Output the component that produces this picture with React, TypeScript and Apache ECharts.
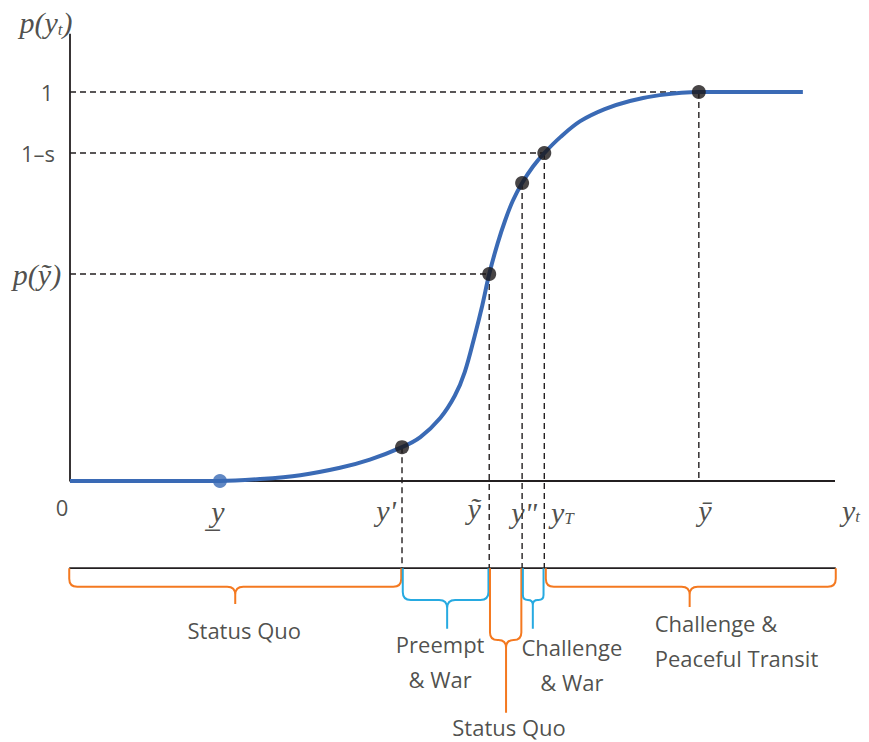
import React, { useEffect, useRef } from "react";
import * as echarts from "echarts";

// ---------------- data ----------------
const curveX = [0, 1.96, 2.48, 3.01, 3.53, 3.92, 4.34, 4.58, 4.84, 5.03, 5.16, 5.29, 5.39, 5.48, 5.59, 5.69, 5.79, 5.91, 6.05, 6.2, 6.41, 6.67, 6.99, 7.32, 7.71, 8.22, 9.58];
const curveY = [0, 0, 0.005, 0.015, 0.034, 0.055, 0.087, 0.113, 0.162, 0.219, 0.28, 0.373, 0.452, 0.532, 0.611, 0.671, 0.721, 0.766, 0.808, 0.843, 0.884, 0.925, 0.956, 0.977, 0.992, 1, 1];

const lowerBoundX = 1.96;
const pointNames = ["y'", "ỹ", 'y"', "yT", "ȳ"];
const pointX = [4.34, 5.48, 5.91, 6.2, 8.22];
const pointY = [0.087, 0.532, 0.766, 0.843, 1];

const yTickLabels = ["1", "1–s", "p(ỹ)"];
const yTickValues = [1, 0.843, 0.532];
const hGuideToX = [8.22, 6.2, 5.48];

const xAxisEnd = 10;
const yAxisEnd = 1.15;
const bracketLineY = -0.224;

const xTickLabels = ["0", "y̲", "y'", "ỹ", 'y"', "{m|y}{s|T}", "ȳ", "{m|y}{s|t}"];
const xTickValues = [0, 1.96, 4.34, 5.48, 5.91, 6.2, 8.22, 10];

const braceLabels = ["Status Quo", "Preempt\n& War", "Status Quo", "Challenge\n& War", "Challenge &\nPeaceful Transit"];
const braceStartX = [-0.01, 4.35, 5.49, 5.92, 6.22];
const braceEndX = [4.33, 5.47, 5.9, 6.19, 10.01];
const braceTipX = [2.16, 4.93, 5.7, 6.05, 8.1];
const braceDepth = [-0.272, -0.306, -0.409, -0.306, -0.272];
const braceTipDepth = [-0.316, -0.38, -0.596, -0.38, -0.324];
const braceKind = [0, 1, 0, 1, 0];

// ---------------- layout / style ----------------
const INK = "#231f20";
const BLUE = "#3a6ab5";
const ORANGE = "#f47920";
const CYAN = "#27aae1";
const braceColors = [ORANGE, CYAN];
const SANS = "Open Sans";
const SERIF = "Liberation Serif";

const xTickOffsets = [[-8, 26], [-2, 30], [-16, 29], [-15, 27], [2, 31], [18, 31], [6, 29], [16, 29]];
const yTickOffsets = [[-23, 0], [-32, 0], [-33, 0]];
const yNameOffset = [-24, -11];
const braceLabelOffsets = [[9, 26], [-7, 33], [3, 14], [39, 36], [-35, 33]];
const braceLabelAlign = ["center", "center", "center", "center", "left"];

const mathStyle = { fontFamily: SERIF, fontStyle: "italic", fontSize: 30, color: INK };
const subStyle = { fontFamily: SERIF, fontStyle: "italic", fontSize: 17, color: INK, verticalAlign: "bottom" };
const sansStyle = { fontFamily: SANS, fontSize: 22, color: INK };

function buildOption() {
  const series: any[] = [];

  series.push({
    type: "line",
    data: [[0, yAxisEnd], [0, 0], [xAxisEnd, 0]],
    symbol: "none",
    lineStyle: { color: INK, width: 1.8 },
    silent: true,
    z: 3,
  });
  series.push({
    type: "line",
    data: [[braceStartX[0], bracketLineY], [braceEndX[braceEndX.length - 1], bracketLineY]],
    symbol: "none",
    lineStyle: { color: INK, width: 1.8 },
    silent: true,
    z: 3,
  });
  yTickValues.forEach((v, i) => {
    series.push({
      type: "line",
      data: [[0, v], [hGuideToX[i], v]],
      symbol: "none",
      lineStyle: { color: INK, width: 1.4, type: [6, 4] },
      silent: true,
      z: 2,
    });
  });
  pointX.forEach((x, i) => {
    const bottom = i === pointX.length - 1 ? 0 : bracketLineY;
    series.push({
      type: "line",
      data: [[x, pointY[i]], [x, bottom]],
      symbol: "none",
      lineStyle: { color: INK, width: 1.4, type: [6, 4] },
      silent: true,
      z: 2,
    });
  });
  series.push({
    type: "custom",
    silent: true,
    z: 4,
    data: braceStartX.map((s, i) => [s, braceEndX[i], braceTipX[i], braceDepth[i], braceTipDepth[i], braceKind[i]]),
    renderItem: (params: any, api: any) => {
      const x0 = api.value(0), x1 = api.value(1), xt = api.value(2);
      const yb = api.value(3), yt = api.value(4), k = api.value(5);
      const [ax, ay] = api.coord([x0, bracketLineY]);
      const [bx] = api.coord([x1, bracketLineY]);
      const [tx, by] = api.coord([xt, yb]);
      const [, ty] = api.coord([xt, yt]);
      const r = Math.min(8, (by - ay) / 2, (tx - ax) / 2, (bx - tx) / 2);
      const d =
        `M${ax},${ay} L${ax},${by - r} Q${ax},${by} ${ax + r},${by} L${tx - r},${by} Q${tx},${by} ${tx},${by + r} L${tx},${ty} ` +
        `M${tx},${by + r} Q${tx},${by} ${tx + r},${by} L${bx - r},${by} Q${bx},${by} ${bx},${by - r} L${bx},${ay}`;
      return {
        type: "path",
        shape: { pathData: d },
        style: { stroke: braceColors[k], fill: "none", lineWidth: 2 },
      };
    },
  });
  series.push({
    type: "line",
    data: curveX.map((x, i) => [x, curveY[i]]),
    smooth: 0.35,
    symbol: "none",
    lineStyle: { color: BLUE, width: 4 },
    silent: true,
    z: 5,
  });
  series.push({
    type: "scatter",
    data: [[lowerBoundX, 0]],
    symbolSize: 14,
    itemStyle: { color: BLUE },
    silent: true,
    z: 6,
  });
  series.push({
    type: "scatter",
    data: pointX.map((x, i) => ({ name: pointNames[i], value: [x, pointY[i]] })),
    symbolSize: 14,
    itemStyle: { color: "#1a1718" },
    silent: true,
    z: 6,
  });

  const texts: any[] = [];
  xTickValues.forEach((x, i) => {
    const lbl = xTickLabels[i];
    const isSans = lbl === "0";
    const fm = isSans ? lbl : lbl.startsWith("{") ? lbl : `{m|${lbl}}`;
    texts.push({
      value: [x, 0],
      label: { formatter: fm, offset: xTickOffsets[i], ...(isSans ? sansStyle : {}) },
    });
  });
  yTickValues.forEach((v, i) => {
    const lbl = yTickLabels[i];
    const isMath = lbl.startsWith("p(");
    texts.push({
      value: [0, v],
      label: { formatter: isMath ? `{m|${lbl}}` : lbl, offset: yTickOffsets[i], ...(isMath ? {} : sansStyle) },
    });
  });
  texts.push({
    value: [0, yAxisEnd],
    label: { formatter: "{m|p(y}{s|t}{m|)}", offset: yNameOffset },
  });
  braceLabels.forEach((t, i) => {
    const multi = t.indexOf("\n") >= 0;
    texts.push({
      value: [braceTipX[i], braceTipDepth[i]],
      label: {
        formatter: t,
        offset: braceLabelOffsets[i],
        align: braceLabelAlign[i],
        ...sansStyle,
        lineHeight: multi ? 35 : 24,
      },
    });
  });
  series.push({
    type: "scatter",
    data: texts,
    symbolSize: 0,
    silent: true,
    z: 7,
    label: {
      show: true,
      position: "inside",
      rich: { m: mathStyle, s: subStyle },
    },
  });

  return {
    animation: false,
    backgroundColor: "#ffffff",
    grid: { left: 1.15, right: 3.4, top: 14.2, bottom: 4.26, containLabel: false },
    xAxis: { type: "value", min: -0.9, max: 10.4, show: false },
    yAxis: { type: "value", min: -0.66, max: 1.2, show: false },
    series,
  };
}

export default function App() {
  const ref = useRef<HTMLDivElement>(null);
  useEffect(() => {
    document.body.style.margin = "0";
    const chart = echarts.init(ref.current!, null, { renderer: "svg" });
    chart.setOption(buildOption() as any);
    return () => chart.dispose();
  }, []);
  return <div ref={ref} style={{ width: 869, height: 742 }} />;
}
